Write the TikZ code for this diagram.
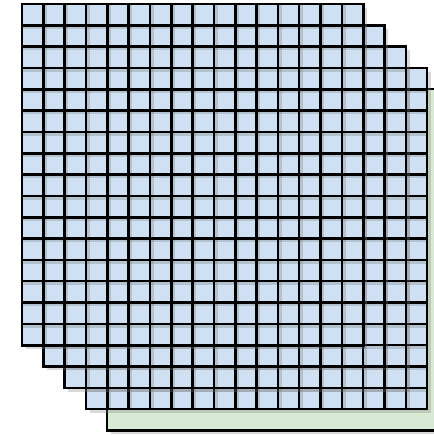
\documentclass[tikz,border=0pt]{standalone}
\usepackage{tikz}
\usetikzlibrary{shadows}
\definecolor{sheet-blue}{HTML}{CFE0F2}
\definecolor{sheet-green}{HTML}{D8EAD3}

\begin{document}
\begin{tikzpicture}[x=0.02344cm, y=-0.02344cm,
    layer/.style={draw=black, line width=1.6pt,
      drop shadow={shadow xshift=2.5pt, shadow yshift=-2.5pt, opacity=0.3}},
    gridshade/.style={black!60, opacity=0.25, line width=2.6pt},
    gridline/.style={black, line width=1.6pt}]
    \useasboundingbox (0,0) rectangle (434,435);
    \clip (0,0) rectangle (434,435);
    % plain sheet at the back
    \path[fill=sheet-green, layer] (107.25,89.25) rectangle ++(341.3,341.3);
    % four grids, back to front
    \foreach \k in {3,2,1,0} {
      \begin{scope}[shift={(22+21.33*\k,4+21.33*\k)}]
        \path[fill=sheet-blue, layer] (0,0) rectangle (341.3,341.3);
        \foreach \i in {1,...,15} {
          \draw[gridshade] (21.33*\i+1.8,1) -- (21.33*\i+1.8,341.3);
          \draw[gridshade] (1,21.33*\i+1.8) -- (341.3,21.33*\i+1.8);
        }
        \foreach \i in {1,...,15} {
          \draw[gridline] (21.33*\i,0) -- (21.33*\i,341.3);
          \draw[gridline] (0,21.33*\i) -- (341.3,21.33*\i);
        }
        \draw[gridline] (0,0) rectangle (341.3,341.3);
      \end{scope}
    }
\end{tikzpicture}
\end{document}
